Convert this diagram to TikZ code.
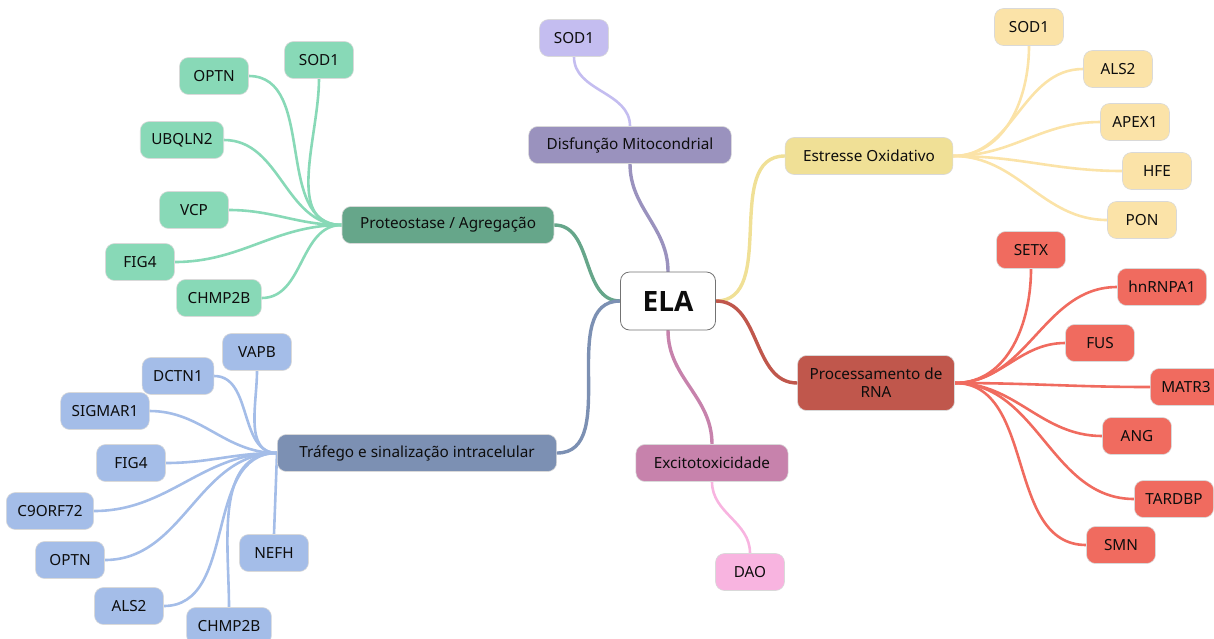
\documentclass[tikz,border=0pt]{standalone}
\usepackage{fontspec}
\setmainfont{Noto Sans}
\newfontfamily\elafont{Open Sans}
\usepackage{tikz}
\usetikzlibrary{positioning,backgrounds}

\definecolor{mitoMain}{HTML}{9A92BE}
\definecolor{mitoLeaf}{HTML}{C4BDF0}
\definecolor{protMain}{HTML}{66A68A}
\definecolor{protLeaf}{HTML}{88D9B7}
\definecolor{trafMain}{HTML}{7C90B3}
\definecolor{trafLeaf}{HTML}{A4BDE8}
\definecolor{oxiMain}{HTML}{F0E096}
\definecolor{oxiLeaf}{HTML}{FBE3A8}
\definecolor{rnaMain}{HTML}{C0574C}
\definecolor{rnaLeaf}{HTML}{F06B5F}
\definecolor{excMain}{HTML}{C782AC}
\definecolor{excLeaf}{HTML}{F8B4E0}
\definecolor{ink}{HTML}{0D0D0D}

\begin{document}
\begin{tikzpicture}[
  x=1pt, y=-1pt,
  every node/.style = {font=\fontsize{15.3}{18}\selectfont, text=ink},
  topic/.style = {draw=black!15, line width=0.6pt, rounded corners=9pt,
                  minimum height=37pt, inner xsep=18pt, align=center},
  leaf/.style  = {topic, minimum width=69pt, inner xsep=11pt},
  link/.style  = {line width=3.4pt, line cap=round},
  twig/.style  = {line width=2.6pt, line cap=round}
]
  \useasboundingbox (0,0) rectangle (1214,638);

  % centre
  \node[topic, fill=white, draw=black!55, line width=0.8pt, minimum width=95pt,
        minimum height=58pt, font=\elafont\fontsize{28}{32}\selectfont\bfseries] (ela) at (668,301) {ELA};

  % main topics
  \node[topic, fill=mitoMain] (mito)   at (630,145) {Disfunção Mitocondrial};
  \node[topic, fill=protMain] (prot)   at (448,225) {Proteostase / Agregação};
  \node[topic, fill=trafMain, inner xsep=22pt] (traf) at (417,453) {Tráfego e sinalização intracelular};
  \node[topic, fill=oxiMain]  (oxi)    at (869,156) {Estresse Oxidativo};
  \node[topic, fill=rnaMain, minimum height=55pt, inner xsep=12pt] (rna) at (876,383) {Processamento de\\RNA};
  \node[topic, fill=excMain]  (exc)    at (712,463) {Excitotoxicidade};

  % genes
  \node[leaf, fill=mitoLeaf] (msod)  at (574,38)  {SOD1};

  \node[leaf, fill=protLeaf] (gsod)  at (319,60)  {SOD1};
  \node[leaf, fill=protLeaf] (goptn) at (214,76)  {OPTN};
  \node[leaf, fill=protLeaf] (gubq)  at (182,140) {UBQLN2};
  \node[leaf, fill=protLeaf] (gvcp)  at (194,210) {VCP};
  \node[leaf, fill=protLeaf] (gfig)  at (140,262) {FIG4};
  \node[leaf, fill=protLeaf] (gchmp) at (219,298) {CHMP2B};

  \node[leaf, fill=trafLeaf] (bvapb) at (257,352) {VAPB};
  \node[leaf, fill=trafLeaf] (bdctn) at (178,376) {DCTN1};
  \node[leaf, fill=trafLeaf] (bsig)  at (105,411) {SIGMAR1};
  \node[leaf, fill=trafLeaf] (bfig)  at (131,463) {FIG4};
  \node[leaf, fill=trafLeaf] (bc9)   at (50,511)  {C9ORF72};
  \node[leaf, fill=trafLeaf] (boptn) at (70,560)  {OPTN};
  \node[leaf, fill=trafLeaf] (bals)  at (129,606) {ALS2};
  \node[leaf, fill=trafLeaf] (bchmp) at (229,626) {CHMP2B};
  \node[leaf, fill=trafLeaf] (bnefh) at (274,553) {NEFH};

  \node[leaf, fill=oxiLeaf] (ysod)  at (1029,27)  {SOD1};
  \node[leaf, fill=oxiLeaf] (yals)  at (1118,69)  {ALS2};
  \node[leaf, fill=oxiLeaf] (yapex) at (1135,122) {APEX1};
  \node[leaf, fill=oxiLeaf] (yhfe)  at (1157,171) {HFE};
  \node[leaf, fill=oxiLeaf] (ypon)  at (1142,220) {PON};

  \node[leaf, fill=rnaLeaf] (rsetx) at (1031,250) {SETX};
  \node[leaf, fill=rnaLeaf] (rhnr)  at (1162,287) {hnRNPA1};
  \node[leaf, fill=rnaLeaf] (rfus)  at (1100,343) {FUS};
  \node[leaf, fill=rnaLeaf] (rmatr) at (1186,387) {MATR3};
  \node[leaf, fill=rnaLeaf] (rang)  at (1137,436) {ANG};
  \node[leaf, fill=rnaLeaf] (rtard) at (1174,499) {TARDBP};
  \node[leaf, fill=rnaLeaf] (rsmn)  at (1121,545) {SMN};

  \node[leaf, fill=excLeaf] (dao)   at (750,572) {DAO};

  \begin{scope}[on background layer]
    % branches from the centre
    \draw[link, mitoMain] (ela.north) to[out=90, in=-90]  (mito.south);
    \draw[link, protMain] (ela.west)  to[out=180, in=0]   (prot.east);
    \draw[link, trafMain] (ela.west)  to[out=180, in=0]   (traf.east);
    \draw[link, oxiMain]  (ela.east)  to[out=0, in=180]   (oxi.west);
    \draw[link, rnaMain]  (ela.east)  to[out=0, in=180]   (rna.west);
    \draw[link, excMain]  (ela.south) to[out=-90, in=90]  (exc.north);

    % mitochondria
    \draw[twig, mitoLeaf] (mito.north) to[out=90, in=-90] (msod.south);

    % proteostasis
    \draw[twig, protLeaf] (prot.west) to[out=180, in=-90] (gsod.south);
    \draw[twig, protLeaf] (prot.west) to[out=180, in=0]   (goptn.east);
    \draw[twig, protLeaf] (prot.west) to[out=180, in=0]   (gubq.east);
    \draw[twig, protLeaf] (prot.west) to[out=180, in=0]   (gvcp.east);
    \draw[twig, protLeaf] (prot.west) to[out=180, in=0]   (gfig.east);
    \draw[twig, protLeaf] (prot.west) to[out=180, in=0]   (gchmp.east);

    % trafficking
    \draw[twig, trafLeaf] (traf.west) to[out=180, in=-90] (bvapb.south);
    \draw[twig, trafLeaf] (traf.west) to[out=180, in=0]   (bdctn.east);
    \draw[twig, trafLeaf] (traf.west) to[out=180, in=0]   (bsig.east);
    \draw[twig, trafLeaf] (traf.west) to[out=180, in=0]   (bfig.east);
    \draw[twig, trafLeaf] (traf.west) to[out=180, in=0]   (bc9.east);
    \draw[twig, trafLeaf] (traf.west) to[out=180, in=0]   (boptn.east);
    \draw[twig, trafLeaf] (traf.west) to[out=180, in=0]   (bals.east);
    \draw[twig, trafLeaf] (traf.west) to[out=180, in=90]  (bchmp.north);
    \draw[twig, trafLeaf] (traf.west) --                  (bnefh.north);

    % oxidative stress
    \draw[twig, oxiLeaf] (oxi.east) to[out=0, in=-90] (ysod.south);
    \draw[twig, oxiLeaf] (oxi.east) to[out=0, in=180] (yals.west);
    \draw[twig, oxiLeaf] (oxi.east) to[out=0, in=180] (yapex.west);
    \draw[twig, oxiLeaf] (oxi.east) to[out=0, in=180] (yhfe.west);
    \draw[twig, oxiLeaf] (oxi.east) to[out=0, in=180] (ypon.west);

    % RNA processing
    \draw[twig, rnaLeaf] (rna.east) to[out=0, in=-90] (rsetx.south);
    \draw[twig, rnaLeaf] (rna.east) to[out=0, in=180] (rhnr.west);
    \draw[twig, rnaLeaf] (rna.east) to[out=0, in=180] (rfus.west);
    \draw[twig, rnaLeaf] (rna.east) to[out=0, in=180] (rmatr.west);
    \draw[twig, rnaLeaf] (rna.east) to[out=0, in=180] (rang.west);
    \draw[twig, rnaLeaf] (rna.east) to[out=0, in=180] (rtard.west);
    \draw[twig, rnaLeaf] (rna.east) to[out=0, in=180] (rsmn.west);

    % excitotoxicity
    \draw[twig, excLeaf] (exc.south) to[out=-90, in=90] (dao.north);
  \end{scope}
\end{tikzpicture}
\end{document}
